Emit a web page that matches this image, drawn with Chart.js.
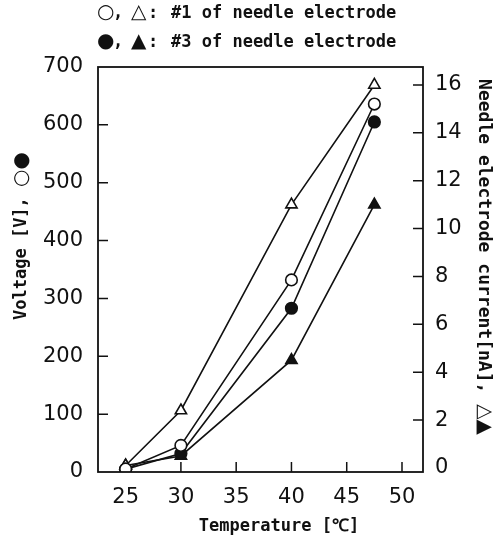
<!DOCTYPE html>
<html>
<head>
<meta charset="utf-8">
<script src="https://cdn.jsdelivr.net/npm/chart.js@4/dist/chart.umd.min.js"></script>
<style>
  html, body { margin: 0; padding: 0; background: #fff; }
  #wrap { width: 499px; height: 539px; }
</style>
</head>
<body>
<div id="wrap"><canvas id="chart" width="499" height="539"></canvas></div>
<script>
// ===== DATA =====
const temps = [25, 30, 40, 47.5];                 // Temperature [℃]
const voltNo1 = [5, 46, 332, 636];                // ○ voltage, needle #1
const voltNo3 = [5, 32, 283, 605];                // ● voltage, needle #3
const currNo1 = [0.1, 2.4, 11.0, 16.0];           // △ current, needle #1
const currNo3 = [0.1, 0.5, 4.5, 11.0];            // ▲ current, needle #3

const xTicks = [25, 30, 35, 40, 45, 50];
const voltTicks = [0, 100, 200, 300, 400, 500, 600, 700];
const currTicks = [0, 2, 4, 6, 8, 10, 12, 14, 16];

const legendSyms = [['○', '△'], ['●', '▲']];
const legendTexts = ['#1 of needle electrode', '#3 of needle electrode'];
const xTitle = 'Temperature [℃]';
const yTitle = 'Voltage [V], ';
const yTitleSyms = '○●';
const y2Title = 'Needle electrode current[nA], ';
const y2TitleSyms = '△▲';

// ===== STYLE =====
const INK = '#111';
const TICK_FONT = { family: "'DejaVu Sans', sans-serif", size: 21 };
const TEXT_FONT = "bold 17px 'DejaVu Sans Mono', 'Liberation Mono', monospace";
const TEXT_FONT_R = "bold 18px 'DejaVu Sans Mono', 'Liberation Mono', monospace";
const SYM_FONT = "20px 'DejaVu Sans', sans-serif";

function pts(ys) { return temps.map((t, i) => ({ x: t, y: ys[i] })); }

function series(label, ys, axis, style, filled) {
  return {
    label, data: pts(ys), yAxisID: axis,
    borderColor: INK, borderWidth: 1.6,
    pointStyle: style, pointRadius: style === 'triangle' ? 6.5 : 5.8,
    pointBorderWidth: 1.6, pointBorderColor: INK,
    pointBackgroundColor: filled ? INK : '#fff',
    fill: false, tension: 0
  };
}

// draws a row of [text, font] pieces starting at x
function drawRuns(ctx, runs, x, y) {
  runs.forEach(([t, f]) => {
    ctx.font = f;
    ctx.fillText(t, x, y);
    x += ctx.measureText(t).width;
  });
}
function runsWidth(ctx, runs) {
  return runs.reduce((w, [t, f]) => { ctx.font = f; return w + ctx.measureText(t).width; }, 0);
}

// frame, inward tick marks and the text around the plot
const decor = {
  id: 'decor',
  afterDraw(chart) {
    const { ctx, chartArea: a, scales } = chart;
    ctx.save();
    ctx.strokeStyle = INK;
    ctx.lineWidth = 1.8;
    ctx.strokeRect(a.left, a.top, a.right - a.left, a.bottom - a.top);

    ctx.lineWidth = 1.5;
    ctx.beginPath();
    voltTicks.slice(1, -1).forEach(v => {
      const y = scales.y.getPixelForValue(v);
      ctx.moveTo(a.left, y); ctx.lineTo(a.left + 10, y);
    });
    currTicks.slice(1).forEach(v => {
      const y = scales.y2.getPixelForValue(v);
      ctx.moveTo(a.right, y); ctx.lineTo(a.right - 10, y);
    });
    xTicks.slice(1).forEach(v => {
      const x = scales.x.getPixelForValue(v);
      ctx.moveTo(x, a.bottom); ctx.lineTo(x, a.bottom - 10);
    });
    ctx.stroke();

    ctx.fillStyle = INK;
    ctx.textBaseline = 'middle';
    ctx.textAlign = 'left';

    // legend lines above the plot
    [13, 42].forEach((y, i) => {
      ctx.font = SYM_FONT;
      ctx.fillText(legendSyms[i][0], 97, y);
      ctx.font = TEXT_FONT;
      ctx.fillText(',', 113, y + 1);
      ctx.font = SYM_FONT;
      ctx.fillText(legendSyms[i][1], 131, y);
      ctx.font = TEXT_FONT;
      ctx.fillText(':', 148, y + 1);
      ctx.fillText(legendTexts[i], 171, y + 1);
    });

    ctx.font = TEXT_FONT;
    ctx.textAlign = 'center';
    ctx.fillText(xTitle, 279, 527);
    ctx.textAlign = 'left';

    // left title, reading upwards
    const yRuns = [[yTitle, TEXT_FONT], [yTitleSyms, SYM_FONT]];
    ctx.save();
    ctx.translate(22, 236);
    ctx.rotate(-Math.PI / 2);
    drawRuns(ctx, yRuns, -runsWidth(ctx, yRuns) / 2, 0);
    ctx.restore();

    // right title, reading downwards
    const y2Runs = [[y2Title, TEXT_FONT_R], [y2TitleSyms, SYM_FONT]];
    ctx.save();
    ctx.translate(484, 257);
    ctx.rotate(Math.PI / 2);
    drawRuns(ctx, y2Runs, -runsWidth(ctx, y2Runs) / 2, 0);
    ctx.restore();

    ctx.restore();
  }
};

const onlyTicks = list => scale => { scale.ticks = list.map(v => ({ value: v })); };

new Chart(document.getElementById('chart'), {
  type: 'line',
  data: {
    datasets: [
      series('V #1', voltNo1, 'y', 'circle', false),
      series('V #3', voltNo3, 'y', 'circle', true),
      series('I #1', currNo1, 'y2', 'triangle', false),
      series('I #3', currNo3, 'y2', 'triangle', true)
    ]
  },
  options: {
    responsive: false,
    animation: false,
    layout: { padding: { top: 67, left: 0, right: 0, bottom: 0 } },
    plugins: { legend: { display: false }, tooltip: { enabled: false } },
    scales: {
      x: {
        type: 'linear', min: 22.5, max: 51.9,
        afterBuildTicks: onlyTicks(xTicks),
        afterFit: s => { s.height = 67; },
        grid: { display: false, drawTicks: false },
        border: { display: false },
        ticks: { color: INK, font: TICK_FONT, padding: 13, maxRotation: 0 }
      },
      y: {
        position: 'left', min: 0, max: 700,
        afterBuildTicks: onlyTicks(voltTicks),
        afterFit: s => { s.width = 98; },
        grid: { display: false, drawTicks: false },
        border: { display: false },
        ticks: { color: INK, font: TICK_FONT, padding: 15 }
      },
      y2: {
        position: 'right', min: -0.17, max: 16.75,
        afterBuildTicks: onlyTicks(currTicks),
        afterFit: s => { s.width = 76; },
        grid: { display: false, drawTicks: false },
        border: { display: false },
        ticks: { color: INK, font: TICK_FONT, padding: 12 }
      }
    }
  },
  plugins: [decor]
});
</script>
</body>
</html>
